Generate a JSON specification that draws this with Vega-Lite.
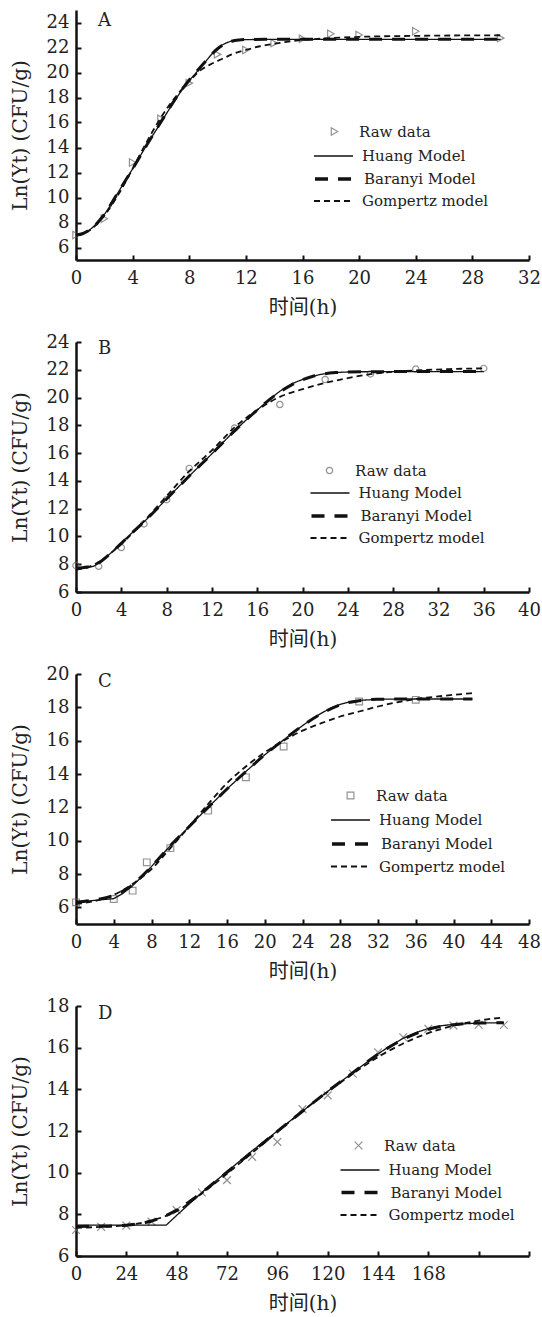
{
  "$schema": "https://vega.github.io/schema/vega-lite/v6.json",
  "background": "white",
  "padding": {"left": 10, "top": 10, "right": 0, "bottom": 0},
  "bounds": "flush",
  "spacing": 82,
  "resolve": {"scale": {"shape": "independent", "strokeDash": "independent"}, "legend": {"shape": "independent", "strokeDash": "independent"}},
  "config": {
    "view": {"stroke": null},
    "font": "DejaVu Serif",
    "axis": {
      "grid": false,
      "domainColor": "#111",
      "domainWidth": 2.5,
      "tickColor": "#111",
      "tickWidth": 2,
      "tickSize": -5,
      "labelFont": "DejaVu Serif",
      "labelFontSize": 18,
      "labelColor": "#222",
      "labelFlush": false,
      "labelOverlap": false,
      "labelBound": false,
      "titleFont": "DejaVu Serif, Noto Sans CJK SC",
      "titleFontSize": 20,
      "titleFontWeight": "normal",
      "titleColor": "#222"
    },
    "axisX": {"labelPadding": 14, "titlePadding": 10},
    "axisY": {"labelPadding": 12, "titlePadding": 16},
    "legend": {
      "title": null,
      "orient": "none",
      "padding": 0,
      "labelFont": "DejaVu Serif",
      "labelFontSize": 15,
      "labelColor": "#222",
      "symbolStrokeColor": "#111"
    },
    "title": {"font": "DejaVu Serif", "fontSize": 18, "fontWeight": "normal", "color": "#222", "anchor": "start", "frame": "group", "offset": 0, "baseline": "alphabetic"}
  },
  "datasets": {
    "A": [
      {"series": "Raw data", "t": 0, "v": 7.0}, {"series": "Raw data", "t": 2, "v": 8.3}, {"series": "Raw data", "t": 4, "v": 12.8}, {"series": "Raw data", "t": 6, "v": 16.3}, {"series": "Raw data", "t": 8, "v": 19.15}, {"series": "Raw data", "t": 10, "v": 21.45}, {"series": "Raw data", "t": 12, "v": 21.8}, {"series": "Raw data", "t": 14, "v": 22.35}, {"series": "Raw data", "t": 16, "v": 22.7}, {"series": "Raw data", "t": 18, "v": 23.1}, {"series": "Raw data", "t": 20, "v": 23.0}, {"series": "Raw data", "t": 24, "v": 23.3}, {"series": "Raw data", "t": 30, "v": 22.75},
      {"series": "Huang Model", "t": 0, "v": 7.0}, {"series": "Huang Model", "t": 0.5, "v": 7.1}, {"series": "Huang Model", "t": 1, "v": 7.45}, {"series": "Huang Model", "t": 1.5, "v": 7.95}, {"series": "Huang Model", "t": 2, "v": 8.65}, {"series": "Huang Model", "t": 2.5, "v": 9.5}, {"series": "Huang Model", "t": 3, "v": 10.45}, {"series": "Huang Model", "t": 4, "v": 12.3}, {"series": "Huang Model", "t": 5, "v": 14.2}, {"series": "Huang Model", "t": 6, "v": 16.0}, {"series": "Huang Model", "t": 7, "v": 17.8}, {"series": "Huang Model", "t": 8, "v": 19.35}, {"series": "Huang Model", "t": 8.5, "v": 20.0}, {"series": "Huang Model", "t": 9, "v": 20.65}, {"series": "Huang Model", "t": 9.5, "v": 21.35}, {"series": "Huang Model", "t": 10, "v": 21.95}, {"series": "Huang Model", "t": 10.5, "v": 22.3}, {"series": "Huang Model", "t": 11, "v": 22.52}, {"series": "Huang Model", "t": 11.5, "v": 22.6}, {"series": "Huang Model", "t": 12, "v": 22.63}, {"series": "Huang Model", "t": 14, "v": 22.65}, {"series": "Huang Model", "t": 20, "v": 22.65}, {"series": "Huang Model", "t": 30, "v": 22.65},
      {"series": "Baranyi Model", "t": 0, "v": 7.0}, {"series": "Baranyi Model", "t": 0.5, "v": 7.12}, {"series": "Baranyi Model", "t": 1, "v": 7.45}, {"series": "Baranyi Model", "t": 1.5, "v": 7.95}, {"series": "Baranyi Model", "t": 2, "v": 8.65}, {"series": "Baranyi Model", "t": 3, "v": 10.45}, {"series": "Baranyi Model", "t": 4, "v": 12.3}, {"series": "Baranyi Model", "t": 5, "v": 14.2}, {"series": "Baranyi Model", "t": 6, "v": 16.05}, {"series": "Baranyi Model", "t": 7, "v": 17.85}, {"series": "Baranyi Model", "t": 8, "v": 19.4}, {"series": "Baranyi Model", "t": 8.5, "v": 20.05}, {"series": "Baranyi Model", "t": 9, "v": 20.7}, {"series": "Baranyi Model", "t": 9.5, "v": 21.35}, {"series": "Baranyi Model", "t": 10, "v": 21.9}, {"series": "Baranyi Model", "t": 10.5, "v": 22.28}, {"series": "Baranyi Model", "t": 11, "v": 22.5}, {"series": "Baranyi Model", "t": 11.5, "v": 22.6}, {"series": "Baranyi Model", "t": 12, "v": 22.64}, {"series": "Baranyi Model", "t": 14, "v": 22.66}, {"series": "Baranyi Model", "t": 20, "v": 22.66}, {"series": "Baranyi Model", "t": 30, "v": 22.66},
      {"series": "Gompertz model", "t": 0, "v": 6.95}, {"series": "Gompertz model", "t": 0.5, "v": 7.1}, {"series": "Gompertz model", "t": 1, "v": 7.4}, {"series": "Gompertz model", "t": 1.5, "v": 7.9}, {"series": "Gompertz model", "t": 2, "v": 8.55}, {"series": "Gompertz model", "t": 3, "v": 10.25}, {"series": "Gompertz model", "t": 4, "v": 12.3}, {"series": "Gompertz model", "t": 5, "v": 14.45}, {"series": "Gompertz model", "t": 6, "v": 16.4}, {"series": "Gompertz model", "t": 7, "v": 18.0}, {"series": "Gompertz model", "t": 8, "v": 19.3}, {"series": "Gompertz model", "t": 8.7, "v": 20.1}, {"series": "Gompertz model", "t": 9.5, "v": 20.65}, {"series": "Gompertz model", "t": 10.35, "v": 21.1}, {"series": "Gompertz model", "t": 11, "v": 21.45}, {"series": "Gompertz model", "t": 12, "v": 21.8}, {"series": "Gompertz model", "t": 13, "v": 22.1}, {"series": "Gompertz model", "t": 14, "v": 22.3}, {"series": "Gompertz model", "t": 16, "v": 22.6}, {"series": "Gompertz model", "t": 18, "v": 22.75}, {"series": "Gompertz model", "t": 20, "v": 22.85}, {"series": "Gompertz model", "t": 24, "v": 22.93}, {"series": "Gompertz model", "t": 30, "v": 22.98}
    ],
    "B": [
      {"series": "Raw data", "t": 0, "v": 7.9}, {"series": "Raw data", "t": 2, "v": 7.85}, {"series": "Raw data", "t": 4, "v": 9.2}, {"series": "Raw data", "t": 6, "v": 10.9}, {"series": "Raw data", "t": 8, "v": 12.65}, {"series": "Raw data", "t": 10, "v": 14.9}, {"series": "Raw data", "t": 14, "v": 17.8}, {"series": "Raw data", "t": 18, "v": 19.5}, {"series": "Raw data", "t": 22, "v": 21.3}, {"series": "Raw data", "t": 26, "v": 21.7}, {"series": "Raw data", "t": 30, "v": 22.05}, {"series": "Raw data", "t": 36, "v": 22.1},
      {"series": "Huang Model", "t": 0, "v": 7.7}, {"series": "Huang Model", "t": 1, "v": 7.75}, {"series": "Huang Model", "t": 2, "v": 8.05}, {"series": "Huang Model", "t": 3, "v": 8.75}, {"series": "Huang Model", "t": 4, "v": 9.55}, {"series": "Huang Model", "t": 5, "v": 10.3}, {"series": "Huang Model", "t": 6, "v": 11.05}, {"series": "Huang Model", "t": 8, "v": 12.7}, {"series": "Huang Model", "t": 10, "v": 14.35}, {"series": "Huang Model", "t": 12, "v": 15.95}, {"series": "Huang Model", "t": 14, "v": 17.6}, {"series": "Huang Model", "t": 16, "v": 19.1}, {"series": "Huang Model", "t": 17, "v": 19.8}, {"series": "Huang Model", "t": 18, "v": 20.45}, {"series": "Huang Model", "t": 19, "v": 20.95}, {"series": "Huang Model", "t": 20, "v": 21.3}, {"series": "Huang Model", "t": 21, "v": 21.55}, {"series": "Huang Model", "t": 22, "v": 21.72}, {"series": "Huang Model", "t": 23, "v": 21.8}, {"series": "Huang Model", "t": 24, "v": 21.84}, {"series": "Huang Model", "t": 26, "v": 21.86}, {"series": "Huang Model", "t": 30, "v": 21.86}, {"series": "Huang Model", "t": 36, "v": 21.86},
      {"series": "Baranyi Model", "t": 0, "v": 7.72}, {"series": "Baranyi Model", "t": 1, "v": 7.8}, {"series": "Baranyi Model", "t": 2, "v": 8.1}, {"series": "Baranyi Model", "t": 3, "v": 8.75}, {"series": "Baranyi Model", "t": 4, "v": 9.5}, {"series": "Baranyi Model", "t": 5, "v": 10.3}, {"series": "Baranyi Model", "t": 6, "v": 11.05}, {"series": "Baranyi Model", "t": 8, "v": 12.7}, {"series": "Baranyi Model", "t": 10, "v": 14.35}, {"series": "Baranyi Model", "t": 12, "v": 15.95}, {"series": "Baranyi Model", "t": 14, "v": 17.6}, {"series": "Baranyi Model", "t": 16, "v": 19.1}, {"series": "Baranyi Model", "t": 17, "v": 19.8}, {"series": "Baranyi Model", "t": 18, "v": 20.4}, {"series": "Baranyi Model", "t": 19, "v": 20.9}, {"series": "Baranyi Model", "t": 20, "v": 21.28}, {"series": "Baranyi Model", "t": 21, "v": 21.55}, {"series": "Baranyi Model", "t": 22, "v": 21.72}, {"series": "Baranyi Model", "t": 23, "v": 21.8}, {"series": "Baranyi Model", "t": 24, "v": 21.84}, {"series": "Baranyi Model", "t": 26, "v": 21.86}, {"series": "Baranyi Model", "t": 30, "v": 21.87}, {"series": "Baranyi Model", "t": 36, "v": 21.87},
      {"series": "Gompertz model", "t": 0, "v": 7.6}, {"series": "Gompertz model", "t": 1, "v": 7.78}, {"series": "Gompertz model", "t": 2, "v": 8.15}, {"series": "Gompertz model", "t": 3, "v": 8.75}, {"series": "Gompertz model", "t": 4, "v": 9.45}, {"series": "Gompertz model", "t": 6, "v": 11.1}, {"series": "Gompertz model", "t": 8, "v": 12.9}, {"series": "Gompertz model", "t": 10, "v": 14.7}, {"series": "Gompertz model", "t": 11, "v": 15.45}, {"series": "Gompertz model", "t": 12, "v": 16.2}, {"series": "Gompertz model", "t": 14, "v": 17.85}, {"series": "Gompertz model", "t": 16, "v": 19.1}, {"series": "Gompertz model", "t": 18, "v": 20.05}, {"series": "Gompertz model", "t": 20, "v": 20.6}, {"series": "Gompertz model", "t": 22, "v": 21.05}, {"series": "Gompertz model", "t": 24, "v": 21.4}, {"series": "Gompertz model", "t": 26, "v": 21.68}, {"series": "Gompertz model", "t": 28, "v": 21.85}, {"series": "Gompertz model", "t": 30, "v": 21.95}, {"series": "Gompertz model", "t": 33, "v": 22.05}, {"series": "Gompertz model", "t": 36, "v": 22.1}
    ],
    "C": [
      {"series": "Raw data", "t": 0, "v": 6.3}, {"series": "Raw data", "t": 4, "v": 6.5}, {"series": "Raw data", "t": 6, "v": 7.0}, {"series": "Raw data", "t": 7.5, "v": 8.7}, {"series": "Raw data", "t": 10, "v": 9.55}, {"series": "Raw data", "t": 14, "v": 11.8}, {"series": "Raw data", "t": 18, "v": 13.8}, {"series": "Raw data", "t": 22, "v": 15.65}, {"series": "Raw data", "t": 30, "v": 18.35}, {"series": "Raw data", "t": 36, "v": 18.45},
      {"series": "Huang Model", "t": 0, "v": 6.3}, {"series": "Huang Model", "t": 2, "v": 6.42}, {"series": "Huang Model", "t": 4, "v": 6.52}, {"series": "Huang Model", "t": 5, "v": 6.85}, {"series": "Huang Model", "t": 6, "v": 7.3}, {"series": "Huang Model", "t": 7, "v": 7.85}, {"series": "Huang Model", "t": 8, "v": 8.45}, {"series": "Huang Model", "t": 9, "v": 9.08}, {"series": "Huang Model", "t": 10, "v": 9.7}, {"series": "Huang Model", "t": 12, "v": 10.85}, {"series": "Huang Model", "t": 14, "v": 12.0}, {"series": "Huang Model", "t": 16, "v": 13.1}, {"series": "Huang Model", "t": 18, "v": 14.15}, {"series": "Huang Model", "t": 20, "v": 15.15}, {"series": "Huang Model", "t": 22, "v": 16.05}, {"series": "Huang Model", "t": 24, "v": 16.9}, {"series": "Huang Model", "t": 25, "v": 17.3}, {"series": "Huang Model", "t": 26, "v": 17.65}, {"series": "Huang Model", "t": 27, "v": 17.95}, {"series": "Huang Model", "t": 28, "v": 18.18}, {"series": "Huang Model", "t": 29, "v": 18.33}, {"series": "Huang Model", "t": 30, "v": 18.42}, {"series": "Huang Model", "t": 32, "v": 18.48}, {"series": "Huang Model", "t": 34, "v": 18.5}, {"series": "Huang Model", "t": 38, "v": 18.5}, {"series": "Huang Model", "t": 42, "v": 18.5},
      {"series": "Baranyi Model", "t": 0, "v": 6.3}, {"series": "Baranyi Model", "t": 2, "v": 6.45}, {"series": "Baranyi Model", "t": 4, "v": 6.72}, {"series": "Baranyi Model", "t": 6, "v": 7.35}, {"series": "Baranyi Model", "t": 7, "v": 7.88}, {"series": "Baranyi Model", "t": 8, "v": 8.45}, {"series": "Baranyi Model", "t": 10, "v": 9.7}, {"series": "Baranyi Model", "t": 12, "v": 10.85}, {"series": "Baranyi Model", "t": 14, "v": 12.0}, {"series": "Baranyi Model", "t": 16, "v": 13.1}, {"series": "Baranyi Model", "t": 18, "v": 14.15}, {"series": "Baranyi Model", "t": 20, "v": 15.15}, {"series": "Baranyi Model", "t": 22, "v": 16.05}, {"series": "Baranyi Model", "t": 24, "v": 16.9}, {"series": "Baranyi Model", "t": 26, "v": 17.62}, {"series": "Baranyi Model", "t": 28, "v": 18.15}, {"series": "Baranyi Model", "t": 30, "v": 18.4}, {"series": "Baranyi Model", "t": 32, "v": 18.48}, {"series": "Baranyi Model", "t": 34, "v": 18.5}, {"series": "Baranyi Model", "t": 42, "v": 18.5},
      {"series": "Gompertz model", "t": 0, "v": 6.2}, {"series": "Gompertz model", "t": 2, "v": 6.38}, {"series": "Gompertz model", "t": 4, "v": 6.75}, {"series": "Gompertz model", "t": 6, "v": 7.4}, {"series": "Gompertz model", "t": 8, "v": 8.3}, {"series": "Gompertz model", "t": 10, "v": 9.55}, {"series": "Gompertz model", "t": 12, "v": 10.85}, {"series": "Gompertz model", "t": 14, "v": 12.2}, {"series": "Gompertz model", "t": 16, "v": 13.45}, {"series": "Gompertz model", "t": 18, "v": 14.45}, {"series": "Gompertz model", "t": 20, "v": 15.3}, {"series": "Gompertz model", "t": 22, "v": 16.0}, {"series": "Gompertz model", "t": 24, "v": 16.6}, {"series": "Gompertz model", "t": 26, "v": 17.05}, {"series": "Gompertz model", "t": 28, "v": 17.45}, {"series": "Gompertz model", "t": 30, "v": 17.75}, {"series": "Gompertz model", "t": 32, "v": 18.05}, {"series": "Gompertz model", "t": 34, "v": 18.3}, {"series": "Gompertz model", "t": 36, "v": 18.5}, {"series": "Gompertz model", "t": 38, "v": 18.63}, {"series": "Gompertz model", "t": 40, "v": 18.75}, {"series": "Gompertz model", "t": 42, "v": 18.85}
    ],
    "D": [
      {"series": "Raw data", "t": 0, "v": 7.25}, {"series": "Raw data", "t": 12, "v": 7.4}, {"series": "Raw data", "t": 24, "v": 7.46}, {"series": "Raw data", "t": 36, "v": 7.65}, {"series": "Raw data", "t": 48, "v": 8.2}, {"series": "Raw data", "t": 60, "v": 9.05}, {"series": "Raw data", "t": 72, "v": 9.64}, {"series": "Raw data", "t": 84, "v": 10.76}, {"series": "Raw data", "t": 96, "v": 11.48}, {"series": "Raw data", "t": 108, "v": 13.05}, {"series": "Raw data", "t": 120, "v": 13.71}, {"series": "Raw data", "t": 132, "v": 14.75}, {"series": "Raw data", "t": 144, "v": 15.78}, {"series": "Raw data", "t": 156, "v": 16.5}, {"series": "Raw data", "t": 168, "v": 16.9}, {"series": "Raw data", "t": 180, "v": 17.06}, {"series": "Raw data", "t": 192, "v": 17.1}, {"series": "Raw data", "t": 204, "v": 17.09},
      {"series": "Huang Model", "t": 0, "v": 7.48}, {"series": "Huang Model", "t": 43, "v": 7.48}, {"series": "Huang Model", "t": 48, "v": 7.95}, {"series": "Huang Model", "t": 54, "v": 8.5}, {"series": "Huang Model", "t": 60, "v": 9.05}, {"series": "Huang Model", "t": 66, "v": 9.55}, {"series": "Huang Model", "t": 72, "v": 10.05}, {"series": "Huang Model", "t": 84, "v": 11.05}, {"series": "Huang Model", "t": 96, "v": 12.0}, {"series": "Huang Model", "t": 108, "v": 12.95}, {"series": "Huang Model", "t": 120, "v": 13.9}, {"series": "Huang Model", "t": 132, "v": 14.8}, {"series": "Huang Model", "t": 138, "v": 15.25}, {"series": "Huang Model", "t": 144, "v": 15.7}, {"series": "Huang Model", "t": 150, "v": 16.1}, {"series": "Huang Model", "t": 156, "v": 16.45}, {"series": "Huang Model", "t": 162, "v": 16.72}, {"series": "Huang Model", "t": 168, "v": 16.92}, {"series": "Huang Model", "t": 174, "v": 17.05}, {"series": "Huang Model", "t": 180, "v": 17.12}, {"series": "Huang Model", "t": 192, "v": 17.18}, {"series": "Huang Model", "t": 204, "v": 17.2},
      {"series": "Baranyi Model", "t": 0, "v": 7.42}, {"series": "Baranyi Model", "t": 12, "v": 7.43}, {"series": "Baranyi Model", "t": 24, "v": 7.48}, {"series": "Baranyi Model", "t": 30, "v": 7.55}, {"series": "Baranyi Model", "t": 36, "v": 7.68}, {"series": "Baranyi Model", "t": 42, "v": 7.9}, {"series": "Baranyi Model", "t": 48, "v": 8.2}, {"series": "Baranyi Model", "t": 54, "v": 8.6}, {"series": "Baranyi Model", "t": 60, "v": 9.05}, {"series": "Baranyi Model", "t": 72, "v": 10.02}, {"series": "Baranyi Model", "t": 84, "v": 11.0}, {"series": "Baranyi Model", "t": 96, "v": 11.98}, {"series": "Baranyi Model", "t": 108, "v": 12.95}, {"series": "Baranyi Model", "t": 120, "v": 13.9}, {"series": "Baranyi Model", "t": 132, "v": 14.8}, {"series": "Baranyi Model", "t": 144, "v": 15.68}, {"series": "Baranyi Model", "t": 156, "v": 16.4}, {"series": "Baranyi Model", "t": 168, "v": 16.88}, {"series": "Baranyi Model", "t": 180, "v": 17.1}, {"series": "Baranyi Model", "t": 192, "v": 17.18}, {"series": "Baranyi Model", "t": 204, "v": 17.2},
      {"series": "Gompertz model", "t": 0, "v": 7.35}, {"series": "Gompertz model", "t": 12, "v": 7.4}, {"series": "Gompertz model", "t": 24, "v": 7.48}, {"series": "Gompertz model", "t": 36, "v": 7.7}, {"series": "Gompertz model", "t": 48, "v": 8.15}, {"series": "Gompertz model", "t": 60, "v": 9.0}, {"series": "Gompertz model", "t": 72, "v": 9.95}, {"series": "Gompertz model", "t": 84, "v": 10.95}, {"series": "Gompertz model", "t": 96, "v": 11.95}, {"series": "Gompertz model", "t": 108, "v": 12.95}, {"series": "Gompertz model", "t": 120, "v": 13.88}, {"series": "Gompertz model", "t": 132, "v": 14.75}, {"series": "Gompertz model", "t": 144, "v": 15.55}, {"series": "Gompertz model", "t": 156, "v": 16.2}, {"series": "Gompertz model", "t": 168, "v": 16.7}, {"series": "Gompertz model", "t": 180, "v": 17.05}, {"series": "Gompertz model", "t": 192, "v": 17.3}, {"series": "Gompertz model", "t": 204, "v": 17.45}
    ]
  },
  "vconcat": [
    {
      "width": 453, "height": 250,
      "data": {"name": "A"},
      "title": {"text": "A", "dx": 22, "dy": 24},
      "encoding": {
        "x": {"field": "t", "type": "quantitative", "scale": {"domain": [0, 32], "nice": false, "zero": false}, "axis": {"values": [0, 4, 8, 12, 16, 20, 24, 28, 32], "title": "时间(h)"}},
        "y": {"field": "v", "type": "quantitative", "scale": {"domain": [5, 25], "nice": false, "zero": false}, "axis": {"values": [6, 8, 10, 12, 14, 16, 18, 20, 22, 24], "title": "Ln(Yt) (CFU/g)"}}
      },
      "layer": [
        {"transform": [{"filter": "datum.series === 'Raw data'"}],
         "mark": {"type": "point", "filled": false, "stroke": "#666", "strokeWidth": 1.2, "size": 55},
         "encoding": {"shape": {"field": "series", "type": "nominal", "scale": {"domain": ["Raw data"], "range": ["triangle-right"]},
           "legend": {"legendX": 251, "legendY": 114, "symbolSize": 55, "symbolStrokeColor": "#666", "symbolStrokeWidth": 1.2, "symbolFillColor": "white", "labelOffset": 17}}}},
        {"transform": [{"filter": "datum.series === 'Huang Model'"}],
         "mark": {"type": "line", "color": "#111", "strokeWidth": 1.3, "interpolate": "monotone"},
         "encoding": {"strokeDash": {"field": "series", "type": "nominal", "scale": {"domain": ["Huang Model"], "range": [[1, 0]]},
           "legend": {"legendX": 237, "legendY": 125.5, "symbolType": "stroke", "symbolSize": 1521, "symbolStrokeWidth": 1.3, "labelOffset": 8}}}},
        {"transform": [{"filter": "datum.series === 'Baranyi Model'"}],
         "mark": {"type": "line", "color": "#111", "strokeWidth": 3, "interpolate": "monotone"},
         "encoding": {"strokeDash": {"field": "series", "type": "nominal", "scale": {"domain": ["Baranyi Model"], "range": [[13, 10]]},
           "legend": {"legendX": 237, "legendY": 147.5, "symbolType": "stroke", "symbolSize": 1521, "symbolStrokeWidth": 3.5, "labelOffset": 8}}}},
        {"transform": [{"filter": "datum.series === 'Gompertz model'"}],
         "mark": {"type": "line", "color": "#111", "strokeWidth": 1.8, "interpolate": "monotone"},
         "encoding": {"strokeDash": {"field": "series", "type": "nominal", "scale": {"domain": ["Gompertz model"], "range": [[6, 4]]},
           "legend": {"legendX": 237, "legendY": 170.5, "symbolType": "stroke", "symbolSize": 1521, "symbolStrokeWidth": 1.8, "labelOffset": 8}}}}
      ],
      "resolve": {"scale": {"strokeDash": "independent"}}
    },
    {
      "width": 453, "height": 250,
      "data": {"name": "B"},
      "title": {"text": "B", "dx": 22, "dy": 29},
      "encoding": {
        "x": {"field": "t", "type": "quantitative", "scale": {"domain": [0, 40], "nice": false, "zero": false}, "axis": {"values": [0, 4, 8, 12, 16, 20, 24, 28, 32, 36, 40], "title": "时间(h)"}},
        "y": {"field": "v", "type": "quantitative", "scale": {"domain": [6, 24], "nice": false, "zero": false}, "axis": {"values": [6, 8, 10, 12, 14, 16, 18, 20, 22, 24], "title": "Ln(Yt) (CFU/g)"}}
      },
      "layer": [
        {"transform": [{"filter": "datum.series === 'Raw data'"}],
         "mark": {"type": "point", "filled": false, "stroke": "#666", "strokeWidth": 1.2, "size": 40},
         "encoding": {"shape": {"field": "series", "type": "nominal", "scale": {"domain": ["Raw data"], "range": ["circle"]},
           "legend": {"legendX": 246, "legendY": 121, "symbolSize": 40, "symbolStrokeColor": "#666", "symbolStrokeWidth": 1.2, "symbolFillColor": "white", "labelOffset": 18}}}},
        {"transform": [{"filter": "datum.series === 'Huang Model'"}],
         "mark": {"type": "line", "color": "#111", "strokeWidth": 1.3, "interpolate": "monotone"},
         "encoding": {"strokeDash": {"field": "series", "type": "nominal", "scale": {"domain": ["Huang Model"], "range": [[1, 0]]},
           "legend": {"legendX": 233.5, "legendY": 130.5, "symbolType": "stroke", "symbolSize": 1521, "symbolStrokeWidth": 1.3, "labelOffset": 8}}}},
        {"transform": [{"filter": "datum.series === 'Baranyi Model'"}],
         "mark": {"type": "line", "color": "#111", "strokeWidth": 3, "interpolate": "monotone"},
         "encoding": {"strokeDash": {"field": "series", "type": "nominal", "scale": {"domain": ["Baranyi Model"], "range": [[13, 10]]},
           "legend": {"legendX": 233.5, "legendY": 152.5, "symbolType": "stroke", "symbolSize": 1521, "symbolStrokeWidth": 3.5, "labelOffset": 8}}}},
        {"transform": [{"filter": "datum.series === 'Gompertz model'"}],
         "mark": {"type": "line", "color": "#111", "strokeWidth": 1.8, "interpolate": "monotone"},
         "encoding": {"strokeDash": {"field": "series", "type": "nominal", "scale": {"domain": ["Gompertz model"], "range": [[6, 4]]},
           "legend": {"legendX": 233.5, "legendY": 175.5, "symbolType": "stroke", "symbolSize": 1521, "symbolStrokeWidth": 1.8, "labelOffset": 8}}}}
      ],
      "resolve": {"scale": {"strokeDash": "independent"}}
    },
    {
      "width": 453, "height": 250,
      "data": {"name": "C"},
      "title": {"text": "C", "dx": 22, "dy": 30},
      "encoding": {
        "x": {"field": "t", "type": "quantitative", "scale": {"domain": [0, 48], "nice": false, "zero": false}, "axis": {"values": [0, 4, 8, 12, 16, 20, 24, 28, 32, 36, 40, 44, 48], "title": "时间(h)"}},
        "y": {"field": "v", "type": "quantitative", "scale": {"domain": [5, 20], "nice": false, "zero": false}, "axis": {"values": [6, 8, 10, 12, 14, 16, 18, 20], "title": "Ln(Yt) (CFU/g)"}}
      },
      "layer": [
        {"transform": [{"filter": "datum.series === 'Raw data'"}],
         "mark": {"type": "point", "filled": false, "stroke": "#666", "strokeWidth": 1.2, "size": 45},
         "encoding": {"shape": {"field": "series", "type": "nominal", "scale": {"domain": ["Raw data"], "range": ["square"]},
           "legend": {"legendX": 267, "legendY": 114, "symbolSize": 45, "symbolStrokeColor": "#666", "symbolStrokeWidth": 1.2, "symbolFillColor": "white", "labelOffset": 18}}}},
        {"transform": [{"filter": "datum.series === 'Huang Model'"}],
         "mark": {"type": "line", "color": "#111", "strokeWidth": 1.3, "interpolate": "linear"},
         "encoding": {"strokeDash": {"field": "series", "type": "nominal", "scale": {"domain": ["Huang Model"], "range": [[1, 0]]},
           "legend": {"legendX": 254, "legendY": 125.5, "symbolType": "stroke", "symbolSize": 1521, "symbolStrokeWidth": 1.3, "labelOffset": 8}}}},
        {"transform": [{"filter": "datum.series === 'Baranyi Model'"}],
         "mark": {"type": "line", "color": "#111", "strokeWidth": 3, "interpolate": "monotone"},
         "encoding": {"strokeDash": {"field": "series", "type": "nominal", "scale": {"domain": ["Baranyi Model"], "range": [[13, 10]]},
           "legend": {"legendX": 254, "legendY": 148.5, "symbolType": "stroke", "symbolSize": 1521, "symbolStrokeWidth": 3.5, "labelOffset": 8}}}},
        {"transform": [{"filter": "datum.series === 'Gompertz model'"}],
         "mark": {"type": "line", "color": "#111", "strokeWidth": 1.8, "interpolate": "monotone"},
         "encoding": {"strokeDash": {"field": "series", "type": "nominal", "scale": {"domain": ["Gompertz model"], "range": [[6, 4]]},
           "legend": {"legendX": 254, "legendY": 172, "symbolType": "stroke", "symbolSize": 1521, "symbolStrokeWidth": 1.8, "labelOffset": 8}}}}
      ],
      "resolve": {"scale": {"strokeDash": "independent"}}
    },
    {
      "width": 453, "height": 250,
      "data": {"name": "D"},
      "title": {"text": "D", "dx": 22, "dy": 30},
      "encoding": {
        "x": {"field": "t", "type": "quantitative", "scale": {"domain": [0, 216], "nice": false, "zero": false}, "axis": {"values": [0, 24, 48, 72, 96, 120, 144, 168, 192, 216], "labelExpr": "datum.value > 170 ? '' : datum.label", "title": "时间(h)"}},
        "y": {"field": "v", "type": "quantitative", "scale": {"domain": [6, 18], "nice": false, "zero": false}, "axis": {"values": [6, 8, 10, 12, 14, 16, 18], "title": "Ln(Yt) (CFU/g)"}}
      },
      "layer": [
        {"transform": [{"filter": "datum.series === 'Raw data'"}],
         "mark": {"type": "point", "filled": false, "stroke": "#666", "strokeWidth": 1.2, "size": 60},
         "encoding": {"shape": {"field": "series", "type": "nominal", "scale": {"domain": ["Raw data"], "range": ["M-1,-1L1,1M-1,1L1,-1"]},
           "legend": {"legendX": 275, "legendY": 132, "symbolSize": 60, "symbolStrokeColor": "#666", "symbolStrokeWidth": 1.2, "symbolFillColor": "white", "labelOffset": 18}}}},
        {"transform": [{"filter": "datum.series === 'Huang Model'"}],
         "mark": {"type": "line", "color": "#111", "strokeWidth": 1.3, "interpolate": "linear"},
         "encoding": {"strokeDash": {"field": "series", "type": "nominal", "scale": {"domain": ["Huang Model"], "range": [[1, 0]]},
           "legend": {"legendX": 263.5, "legendY": 143.5, "symbolType": "stroke", "symbolSize": 1521, "symbolStrokeWidth": 1.3, "labelOffset": 8}}}},
        {"transform": [{"filter": "datum.series === 'Baranyi Model'"}],
         "mark": {"type": "line", "color": "#111", "strokeWidth": 3, "interpolate": "monotone"},
         "encoding": {"strokeDash": {"field": "series", "type": "nominal", "scale": {"domain": ["Baranyi Model"], "range": [[13, 10]]},
           "legend": {"legendX": 263.5, "legendY": 165, "symbolType": "stroke", "symbolSize": 1521, "symbolStrokeWidth": 3.5, "labelOffset": 8}}}},
        {"transform": [{"filter": "datum.series === 'Gompertz model'"}],
         "mark": {"type": "line", "color": "#111", "strokeWidth": 1.8, "interpolate": "monotone"},
         "encoding": {"strokeDash": {"field": "series", "type": "nominal", "scale": {"domain": ["Gompertz model"], "range": [[6, 4]]},
           "legend": {"legendX": 263.5, "legendY": 188.5, "symbolType": "stroke", "symbolSize": 1521, "symbolStrokeWidth": 1.8, "labelOffset": 8}}}}
      ],
      "resolve": {"scale": {"strokeDash": "independent"}}
    }
  ]
}
